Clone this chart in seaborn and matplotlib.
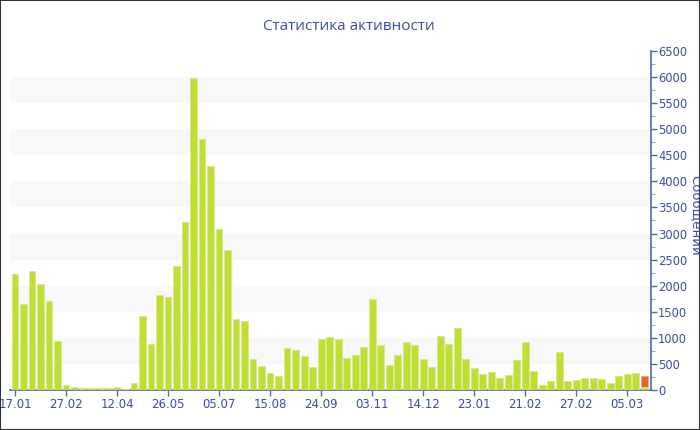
import matplotlib
matplotlib.use("Agg")
import matplotlib.pyplot as plt
import seaborn as sns
import pandas as pd
import numpy as np
from matplotlib.patches import Rectangle
from matplotlib.ticker import MultipleLocator

# ---- data ----
messages = [2220, 1650, 2275, 2030, 1700, 940, 90, 60, 40, 35,
            30, 35, 55, 25, 130, 1420, 880, 1830, 1775, 2380,
            3225, 5990, 4810, 4295, 3095, 2685, 1365, 1315, 595, 460,
            320, 260, 810, 760, 645, 440, 985, 1020, 985, 605,
            670, 830, 1740, 855, 480, 675, 915, 855, 590, 435,
            1035, 875, 1195, 590, 430, 315, 350, 230, 290, 575,
            915, 365, 90, 165, 730, 165, 190, 225, 225, 205,
            130, 275, 305, 330, 58]
current_extra = [0] * 74 + [210]
tick_labels = ["17.01", "27.02", "12.04", "26.05", "05.07", "15.08", "24.09",
               "03.11", "14.12", "23.01", "21.02", "27.02", "05.03"]
title = "Статистика активности"
ylabel = "Сообщений"

idx = list(range(len(messages)))
df = pd.DataFrame({"idx": idx,
                   "green": messages,
                   "total": [a + b for a, b in zip(messages, current_extra)]})

TXT = "#3d4e9c"
AX = "#5268aa"

sns.set_theme(style="white")
plt.rcParams["font.family"] = ["DejaVu Sans"]

fig = plt.figure(figsize=(7, 4.3), dpi=100)
ax = fig.add_axes([10 / 700, 1 - 390 / 430, 641 / 700, 339 / 430])

# alternating bands
for lo in range(500, 6000, 1000):
    ax.axhspan(lo, lo + 500, color="#f8f8f8", zorder=0, lw=0)

sns.barplot(data=df, x="idx", y="total", color="#e2642f", saturation=1,
            width=0.8, edgecolor="#f0a080", linewidth=0.5, ax=ax, zorder=2)
sns.barplot(data=df, x="idx", y="green", color="#bde032", saturation=1,
            width=0.8, edgecolor="#dcef98", linewidth=0.6, ax=ax, zorder=3)

ax.set_xlim(-0.59, 74.8)
ax.set_ylim(0, 6500)

for s in ["left", "top"]:
    ax.spines[s].set_visible(False)
for s in ["right", "bottom"]:
    ax.spines[s].set_color(AX)
    ax.spines[s].set_linewidth(1.2)

ax.yaxis.tick_right()
ax.yaxis.set_major_locator(MultipleLocator(500))
ax.yaxis.set_minor_locator(MultipleLocator(250))
ax.tick_params(axis="y", which="major", direction="out", length=4, width=1,
               color=AX, labelcolor=TXT, labelsize=8.3, pad=1, right=True, left=False)
ax.tick_params(axis="y", which="minor", direction="out", length=3, width=0.8,
               color="#9aa6cc", right=True, left=False)

ax.set_xticks(range(0, 73, 6))
ax.set_xticklabels(tick_labels)
ax.tick_params(axis="x", direction="out", length=4, width=1, color=AX,
               labelcolor=TXT, labelsize=8.5, pad=2, bottom=True)
ax.set_xlabel("")
ax.set_ylabel("")

fig.text(695 / 700, 1 - 215 / 430, ylabel, rotation=270, ha="center", va="center",
         color=TXT, fontsize=9.5)

fig.text(349 / 700, 1 - 26 / 430, title, ha="center", va="center",
         color=TXT, fontsize=11, family=["Open Sans", "DejaVu Sans"])

fig.patches.append(Rectangle((0, 0), 1, 1, transform=fig.transFigure,
                             fill=False, edgecolor="#333333", linewidth=1.5))

fig.savefig("out.png", dpi=100)
